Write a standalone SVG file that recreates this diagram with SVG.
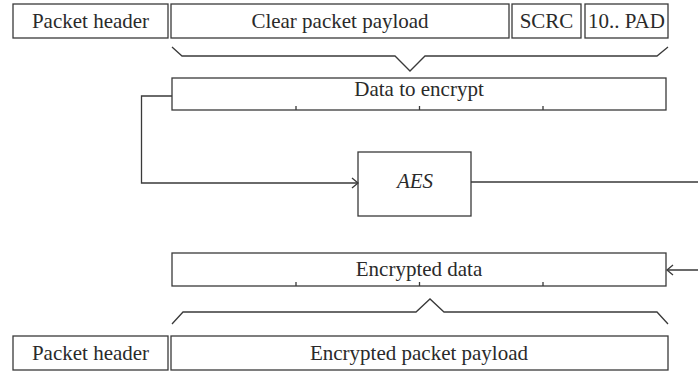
<svg xmlns="http://www.w3.org/2000/svg" width="698" height="372" viewBox="0 0 698 372">
  <style>
    .box { fill: #ffffff; stroke: #3a3a3a; stroke-width: 1.3; }
    .wire { fill: none; stroke: #3a3a3a; stroke-width: 1.3; }
    .lbl { font-family: "Liberation Serif", "Times New Roman", serif; font-size: 21px; fill: #2a2a2a; text-anchor: middle; }
    .it { font-style: italic; }
  </style>
  <defs>
    <marker id="chev" markerUnits="userSpaceOnUse" markerWidth="10" markerHeight="12" refX="7" refY="6" orient="auto">
      <path d="M1,1 L7,6 L1,11" fill="none" stroke="#3a3a3a" stroke-width="1.3"/>
    </marker>
  </defs>

  <rect width="698" height="372" fill="#ffffff"/>

  <!-- clear packet layout -->
  <g id="clear-header">
    <rect class="box" x="13" y="4" width="155" height="34"/>
    <text class="lbl" x="90.5" y="27.5">Packet header</text>
  </g>
  <g id="clear-payload">
    <rect class="box" x="171" y="4" width="338" height="34"/>
    <text class="lbl" x="340" y="27.5">Clear packet payload</text>
  </g>
  <g id="scrc">
    <rect class="box" x="512" y="4" width="69" height="34"/>
    <text class="lbl" x="546.5" y="27.5">SCRC</text>
  </g>
  <g id="pad">
    <rect class="box" x="585" y="4" width="83" height="34"/>
    <text class="lbl" x="626.5" y="27.5">10.. PAD</text>
  </g>

  <!-- data blocks -->
  <g id="data-to-encrypt">
    <rect class="box" x="172" y="78" width="494" height="32"/>
    <path class="wire" d="M296,106 V110 M419.5,106 V110 M543,106 V110"/>
    <text class="lbl" x="419" y="95.5">Data to encrypt</text>
  </g>
  <g id="aes">
    <rect class="box" x="358" y="152" width="113" height="64"/>
    <text class="lbl it" x="415" y="188">AES</text>
  </g>
  <g id="encrypted-data">
    <rect class="box" x="172" y="253" width="494" height="33"/>
    <path class="wire" d="M296,282 V286 M419.5,282 V286 M543,282 V286"/>
    <text class="lbl" x="419" y="275.5">Encrypted data</text>
  </g>

  <!-- encrypted packet layout -->
  <g id="enc-header">
    <rect class="box" x="13" y="336" width="155" height="34"/>
    <text class="lbl" x="90.5" y="359.5">Packet header</text>
  </g>
  <g id="enc-payload">
    <rect class="box" x="171" y="336" width="497" height="34"/>
    <text class="lbl" x="419" y="359.5">Encrypted packet payload</text>
  </g>

  <!-- braces and flow lines -->
  <g id="connectors">
    <path class="wire" d="M172,47 L182,56 H395 L410,71 L425,56 H657 L668,47"/>
    <path class="wire" d="M172,324 L183,312 H416 L430,299 L444,312 H657 L668,324"/>
    <path class="wire" d="M172,96 H141.5 V183 H358" marker-end="url(#chev)"/>
    <path class="wire" d="M471,182 H702 V270 H667" marker-end="url(#chev)"/>
  </g>
</svg>
